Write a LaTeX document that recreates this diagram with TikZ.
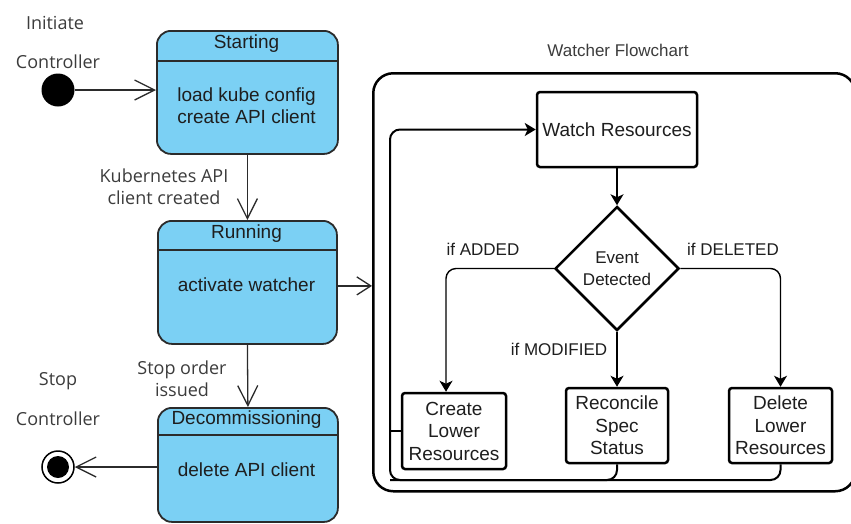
\documentclass[tikz,border=0pt]{standalone}
\usepackage{fontspec}
\setmainfont{Liberation Sans}
\newfontfamily\lblfont{Open Sans}
\usetikzlibrary{arrows.meta,shapes.geometric}
\definecolor{stfill}{HTML}{7BD0F4}
\definecolor{stline}{HTML}{2B2B2B}
\definecolor{lblc}{HTML}{3C3C3C}
\definecolor{txtc}{HTML}{1E1E1E}
\tikzset{
  statebox/.style={draw=stline, line width=1.8pt, fill=stfill, rounded corners=14pt, anchor=north west, inner sep=0pt},
  sthead/.style={font=\fontsize{19}{22}\selectfont, text=txtc, inner sep=0pt},
  stbody/.style={font=\fontsize{19}{22}\selectfont, text=txtc, align=center, inner sep=0pt},
  lbl/.style={font=\lblfont\fontsize{18}{22}\selectfont, text=lblc, align=center, inner sep=0pt},
  starrow/.style={draw=stline, line width=1.3pt, -{Straight Barb[length=20pt,width=20pt]}},
  flbox/.style={draw=black, line width=2.5pt, rounded corners=3pt, fill=white, align=center, inner sep=0pt, text=txtc, font=\fontsize{19}{22.5}\selectfont},
  flarrow/.style={draw=black, line width=1.4pt, -{Stealth[length=11pt,width=13pt,inset=3pt]}},
  loopline/.style={draw=black, line width=2pt, rounded corners=10pt},
  brlbl/.style={font=\fontsize{17}{20}\selectfont, text=txtc, inner sep=0pt}
}
\begin{document}
\begin{tikzpicture}[x=1pt,y=-1pt]
\path[use as bounding box, clip] (0,0) rectangle (851,523);
\fill[white] (0,0) rectangle (851,523);

% ---------- left: state machine ----------
\node[lbl] (initA) at (55,23) {Initiate};
\node[lbl] (initB) at (58,62) {Controller};
\node[circle, fill=black, minimum size=33pt, inner sep=0pt] (init) at (58,90) {};

\node[statebox, minimum width=181pt, minimum height=123pt] (start) at (156,30) {};
\draw[stline, line width=1.5pt] (156,61) -- (337,61);
\node[sthead] (startH) at (246.5,44) {Starting};
\node[stbody] (startB) at (246.5,106) {load kube config\\create API client};

\node[lbl] (kub) at (164,187) {Kubernetes API\\client created};

\node[statebox, minimum width=179pt, minimum height=123pt] (run) at (157,220) {};
\draw[stline, line width=1.5pt] (157,250) -- (336,250);
\node[sthead] (runH) at (246.5,234) {Running};
\node[stbody] (runB) at (246.5,285) {activate watcher};

\node[lbl] (stopo) at (182,379) {Stop order\\issued};

\node[statebox, minimum width=180pt, minimum height=114pt] (dec) at (157,407) {};
\draw[stline, line width=1.5pt] (157,435) -- (337,435);
\node[sthead] (decH) at (246.5,420) {Decommissioning};
\node[stbody] (decB) at (246.5,470) {delete API client};

\node[lbl] (stopA) at (58,381) {Stop};
\node[lbl] (stopB) at (58,419) {Controller};
\node[circle, draw=black, line width=1.5pt, fill=white, minimum size=32pt, inner sep=0pt] (fin) at (58,467) {};
\node[circle, fill=black, minimum size=22pt, inner sep=0pt] (finI) at (58,467) {};

\draw[starrow] (init) -- (start.west |- init);
\draw[starrow] (start.south) -- (run.north);
\draw[starrow] (run.south) -- (dec.north);
\draw[starrow] (dec.west |- fin) -- (fin);

% ---------- right: watcher flowchart ----------
\node[lbl, font=\fontsize{17}{20}\selectfont] (fctitle) at (618,50) {Watcher Flowchart};
\node[draw=black, line width=2.5pt, rounded corners=20pt, minimum width=482pt, minimum height=418pt, anchor=north west, inner sep=0pt] (fc) at (372,72) {};

\draw[starrow, -{Straight Barb[length=14pt,width=18pt]}] ([yshift=-3.5pt]run.east) -- ([yshift=-3.5pt]fc.west |- run.east);

\node[flbox, minimum width=160pt, minimum height=75pt] (watch) at (617,129.5) {Watch Resources};
\node[diamond, draw=black, line width=2.5pt, fill=white, minimum width=124pt, minimum height=124pt, inner sep=0pt, align=center, text=txtc, font=\fontsize{17}{22}\selectfont] (dia) at (617,268.5) {Event\\Detected};
\node[flbox, minimum width=104pt, minimum height=76pt] (create) at (454,431) {Create\\Lower\\Resources};
\node[flbox, minimum width=102pt, minimum height=75pt] (recon) at (617,425.5) {Reconcile\\Spec\\Status};
\node[flbox, minimum width=103pt, minimum height=75pt] (del) at (780.5,425.5) {Delete\\Lower\\Resources};

\node[brlbl] (lAdd) at (483,249) {if ADDED};
\node[brlbl] (lDel) at (733,249) {if DELETED};
\node[brlbl] (lMod) at (559,349) {if MODIFIED};

\draw[flarrow] (watch.south) -- (dia.north);
\draw[flarrow, rounded corners=10pt] (dia.west) -| ([xshift=-8pt]create.north);
\draw[flarrow] (dia.south) -- (recon.north);
\draw[flarrow, rounded corners=10pt] (dia.east) -| (del.north);

\coordinate (lpTL) at (390,129.5);
\coordinate (lpBL) at (390,480);
\draw[loopline, -{Stealth[length=11pt,width=13pt,inset=3pt]}] (del.south) |- (lpBL) -- (lpTL) -- (watch.west);
\draw[loopline] (recon.south) |- (lpBL);
\draw[draw=black, line width=1.4pt] (create.west) -- (create.west -| lpBL);
\end{tikzpicture}
\end{document}
